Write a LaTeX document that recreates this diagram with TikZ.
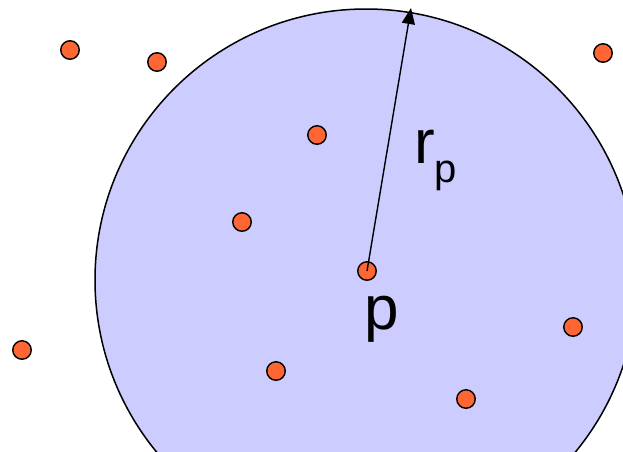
\documentclass[tikz,border=0pt]{standalone}
\usepackage{fontspec}
\setmainfont{Liberation Sans}
\usetikzlibrary{arrows.meta}
\definecolor{kruh}{HTML}{CCCCFF}
\definecolor{bod}{HTML}{FF6633}
\tikzset{bod/.style={circle, draw, fill=bod, line width=1.4pt, inner sep=0pt, minimum size=18.5pt}}

\begin{document}
\begin{tikzpicture}[x=1pt,y=-1pt]
        \useasboundingbox (0,0) rectangle (623,451);
        \clip (0,0) rectangle (623,451);

        \draw[fill=kruh, line width=1.5pt] (366,280) circle (271pt);

        % body
        \foreach \x/\y/\n in {70/50/a, 157/62/b, 603/53/c, 317/135/d, 242/222/e,
                22/350/f, 276/371/g, 466/399/h, 573/327/i}
                \node[bod] (\n) at (\x,\y) {};
        \node[bod] (p) at (367,271) {};

        \coordinate (vrchol) at (411,8);
        \draw[-{Triangle[length=16pt,width=13pt]}, line width=1.4pt] (p.center) -- (vrchol);

        \node[anchor=base west, inner sep=0pt, font=\fontsize{62}{62}\selectfont] (plab) at (364,329) {p};
        \node[anchor=base west, inner sep=0pt, font=\fontsize{62}{62}\selectfont] (rlab) at (414,163)
                {r\raisebox{-0.32em}{\fontsize{40}{40}\selectfont p}};
\end{tikzpicture}
\end{document}
